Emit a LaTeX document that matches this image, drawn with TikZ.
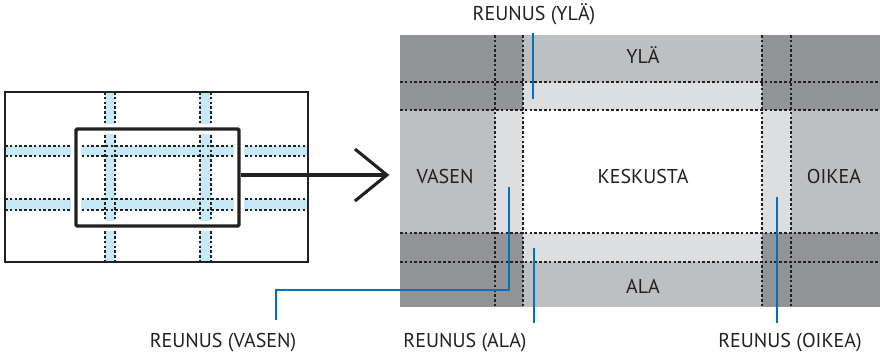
\documentclass[tikz,border=0pt]{standalone}
\usepackage{fontspec}
\setmainfont{PT Sans}
\usetikzlibrary{arrows.meta,positioning}
\definecolor{ink}{gray}{0.13}
\definecolor{cornergray}{RGB}{147,148,151}
\definecolor{edgegray}{RGB}{190,191,193}
\definecolor{stripgray}{RGB}{221,222,224}
\definecolor{seamblue}{RGB}{199,232,247}
\definecolor{leadblue}{RGB}{0,114,188}

\tikzset{
  seam/.style={ink, line width=0.85pt, dash pattern=on 2pt off 1.6pt},
  leader/.style={leadblue, line width=1.6pt},
  lbl/.style={font=\fontsize{15}{17}\selectfont, text=ink, inner sep=0pt},
}

\begin{document}
\begin{tikzpicture}[x=0.75pt,y=-0.75pt]
  \useasboundingbox (0,0) rectangle (880,355);

  % left screen with the blend seams
  \fill[seamblue] (105,92) rectangle (115,262);
  \fill[seamblue] (200,92) rectangle (211,262);
  \fill[seamblue] (5,146) rectangle (308,156);
  \fill[seamblue] (5,199) rectangle (308,210);
  \foreach \x in {105,115,200,211}
    \draw[seam] (\x,92) -- (\x,262);
  \foreach \y in {146,156,199,210}
    \draw[seam] (5,\y) -- (308,\y);
  \node[draw=ink, line width=0.8pt, minimum width=227.25pt, minimum height=127.5pt,
        inner sep=0pt] (screen) at (156.5,177) {};
  % zoomed window
  \draw[white, line width=7pt] (76,129) rectangle (239,226);
  \node[draw=ink, line width=2.6pt, rounded corners=1pt, minimum width=122.25pt,
        minimum height=72.75pt, inner sep=0pt] (window) at (157.5,177.5) {};

  % right panel
  \fill[cornergray] (400,35) rectangle (880,307);
  \fill[edgegray] (523,35) rectangle (762,82);
  \fill[stripgray] (523,82) rectangle (762,110);
  \fill[edgegray] (400,110) rectangle (495,233);
  \fill[stripgray] (495,110) rectangle (523,233);
  \fill[stripgray] (762,110) rectangle (791,233);
  \fill[edgegray] (791,110) rectangle (880,233);
  \fill[stripgray] (523,233) rectangle (762,262);
  \fill[edgegray] (523,262) rectangle (762,307);
  \fill[white] (523,110) rectangle (762,233);
  \foreach \x in {495,523,762,791}
    \draw[seam] (\x,35) -- (\x,307);
  \foreach \y in {82,110,233,262}
    \draw[seam] (400,\y) -- (880,\y);
  \coordinate (panel) at (400,175);

  \draw[ink, line width=2.3pt, -{Straight Barb[length=24pt,width=39pt]}]
    (window.east |- panel) -- ([xshift=-8pt]panel);

  % zone names
  \node[lbl] (top)    at (643,55)  {YLÄ};
  \node[lbl] (left)   at (445,176) {VASEN};
  \node[lbl] (centre) at (643,176) {KESKUSTA};
  \node[lbl] (right)  at (834,176) {OIKEA};
  \node[lbl] (bottom) at (643,286) {ALA};

  % edge callouts
  \node[lbl] (edgeTop)    at (534,14)  {REUNUS (YLÄ)};
  \node[lbl] (edgeLeft)   at (223,343) {REUNUS (VASEN)};
  \node[lbl] (edgeBottom) at (465,343) {REUNUS (ALA)};
  \node[lbl] (edgeRight)  at (790,343) {REUNUS (OIKEA)};

  \coordinate (tipTop)    at (533,99);
  \coordinate (tipLeft)   at (509,187);
  \coordinate (tipBottom) at (534,248);
  \coordinate (tipRight)  at (777,197);

  \draw[leader] (tipTop |- 0,33) -- (tipTop);
  \draw[leader] (tipLeft) -- (509,290) -| (276,320);
  \draw[leader] (tipBottom) -- (tipBottom |- 0,323);
  \draw[leader] (tipRight) -- (tipRight |- 0,323);
\end{tikzpicture}
\end{document}
